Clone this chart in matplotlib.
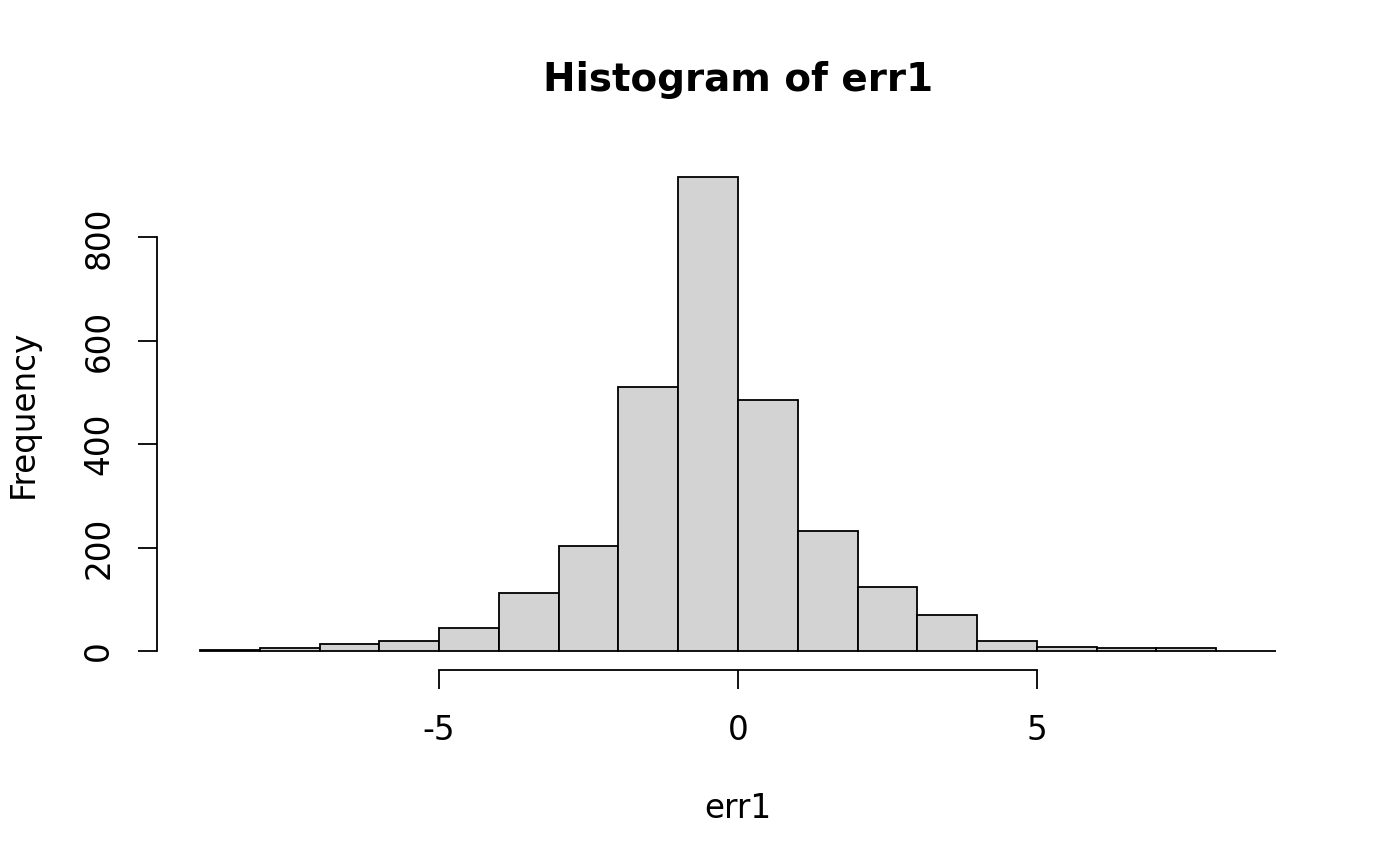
import matplotlib
matplotlib.use("Agg")
import matplotlib.pyplot as plt
import numpy as np

bin_edges = list(range(-9, 10))
counts = [2, 6, 14, 20, 45, 113, 204, 511, 917, 486, 233, 123, 70, 20, 8, 6, 5, 1]
x_ticks = [-5, 0, 5]
y_ticks = [0, 200, 400, 600, 800]

plt.rcParams['font.family'] = ['DejaVu Sans']
fig = plt.figure(figsize=(14, 8.66), dpi=100)
ax = fig.add_axes([157/1400, 1-670/866, (1319-157)/1400, (670-158)/866])

edges = np.array(bin_edges, dtype=float)
ax.bar(edges[:-1], counts, width=np.diff(edges), align='edge',
       color='#d3d3d3', edgecolor='black', linewidth=1.3)

ax.set_xlim(-9.72, 9.72)
ymax = max(counts)
ax.set_ylim(-0.04*ymax, 1.04*ymax)

for s in ['top', 'right']:
    ax.spines[s].set_visible(False)
ax.spines['left'].set_bounds(0, 800)
ax.spines['bottom'].set_bounds(-5, 5)
ax.spines['left'].set_linewidth(1.3)
ax.spines['bottom'].set_linewidth(1.3)
ax.set_xticks(x_ticks)
ax.set_xticklabels([str(v) for v in x_ticks])
ax.set_yticks(y_ticks)
ax.set_yticklabels([str(v) for v in y_ticks], rotation=90, va='center')
ax.tick_params(axis='both', direction='out', length=14, width=1.3, labelsize=23.5)
ax.tick_params(axis='x', pad=18)
ax.tick_params(axis='y', pad=16)

ax.set_xlabel('err1', fontsize=23.5, labelpad=32)
ax.set_ylabel('Frequency', fontsize=23.5, labelpad=31)
fig.text(738/1400, 1-80/866, 'Histogram of err1', ha='center', va='center',
         fontsize=28, fontweight='bold')

fig.savefig('out.png', dpi=100)
